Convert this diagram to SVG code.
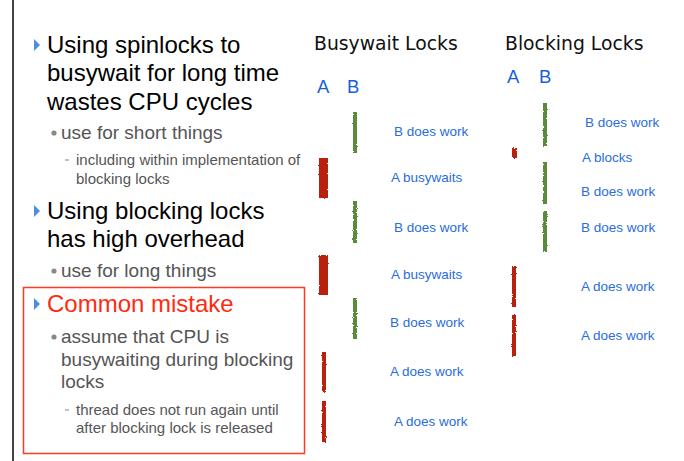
<svg xmlns="http://www.w3.org/2000/svg" width="684" height="461" viewBox="0 0 684 461">
<style>
.main{font-family:"Liberation Sans",Arial,sans-serif;font-size:24px;fill:#000}
.sub{font-family:"Liberation Sans",Arial,sans-serif;font-size:19px;fill:#555}
.subsub{font-family:"Liberation Sans",Arial,sans-serif;font-size:15px;fill:#555}
.red{fill:#ff2a10}
.title{font-family:"DejaVu Sans",Verdana,sans-serif;font-size:18.8px;fill:#111}
.ab{font-family:"Liberation Sans",Arial,sans-serif;font-size:18.5px;fill:#1a5fd6}
.lbl{font-family:"Liberation Sans",Arial,sans-serif;font-size:13.5px;fill:#2a6ddb}
.tri{fill:#4a8fe0}
.dot{fill:#888}
.g{fill:#5b8a3a;filter:url(#rough)}
.r{fill:#b8200c;filter:url(#rough)}
</style>
<defs>
<filter id="rough" x="-50%" y="-10%" width="200%" height="120%">
<feTurbulence type="fractalNoise" baseFrequency="0.9" numOctaves="2" seed="3" result="n"/>
<feDisplacementMap in="SourceGraphic" in2="n" scale="2.5" xChannelSelector="R" yChannelSelector="G"/>
</filter>
</defs>
<rect width="684" height="461" fill="#fff"/>
<line x1="13" y1="0" x2="13" y2="461" stroke="#444" stroke-width="2"/>

<g id="left-text">
<polygon class="tri" points="34,39 40,45 34,51"/>
<text class="main" x="47" y="53">Using spinlocks to</text>
<text class="main" x="47" y="81">busywait for long time</text>
<text class="main" x="47" y="110">wastes CPU cycles</text>
<circle class="dot" cx="54" cy="133" r="2.6"/>
<text class="sub" x="61" y="139">use for short things</text>
<line x1="65" y1="160" x2="69" y2="160" stroke="#888" stroke-width="1"/>
<text class="subsub" x="76" y="165">including within implementation of</text>
<text class="subsub" x="76" y="184">blocking locks</text>
<polygon class="tri" points="34,205 40,211 34,217"/>
<text class="main" x="47" y="219">Using blocking locks</text>
<text class="main" x="47" y="247">has high overhead</text>
<circle class="dot" cx="54" cy="271" r="2.6"/>
<text class="sub" x="61" y="277">use for long things</text>
</g>

<g id="mistake-box">
<rect x="23.5" y="287.5" width="281" height="166" fill="none" stroke="#ff3a1e" stroke-width="1.5"/>
<polygon class="tri" points="34,298 40,304 34,310"/>
<text class="main red" x="47" y="312">Common mistake</text>
<circle class="dot" cx="54" cy="337" r="2.6"/>
<text class="sub" x="61" y="343">assume that CPU is</text>
<text class="sub" x="61" y="366">busywaiting during blocking</text>
<text class="sub" x="61" y="388">locks</text>
<line x1="65" y1="410" x2="69" y2="410" stroke="#888" stroke-width="1"/>
<text class="subsub" x="76" y="415">thread does not run again until</text>
<text class="subsub" x="76" y="433">after blocking lock is released</text>
</g>

<g id="busywait">
<text class="title" x="314" y="50">Busywait Locks</text>
<text class="ab" x="317" y="93">A</text>
<text class="ab" x="347" y="93">B</text>
<rect class="g" x="353" y="112" width="4" height="41"/>
<rect class="r" x="319" y="158" width="9" height="40"/>
<rect class="g" x="353" y="201" width="4" height="42"/>
<rect class="r" x="319" y="255" width="9" height="40"/>
<rect class="g" x="353" y="298" width="4" height="41"/>
<rect class="r" x="322" y="352" width="4" height="40"/>
<rect class="r" x="322" y="401" width="4" height="41"/>
<text class="lbl" x="394" y="136">B does work</text>
<text class="lbl" x="391" y="182">A busywaits</text>
<text class="lbl" x="394" y="232">B does work</text>
<text class="lbl" x="391" y="279">A busywaits</text>
<text class="lbl" x="390" y="327">B does work</text>
<text class="lbl" x="390" y="376">A does work</text>
<text class="lbl" x="394" y="426">A does work</text>
</g>

<g id="blocking">
<text class="title" x="505" y="50">Blocking Locks</text>
<text class="ab" x="507" y="83">A</text>
<text class="ab" x="539" y="83">B</text>
<rect class="g" x="543" y="103" width="4" height="43"/>
<rect class="r" x="512" y="148" width="5" height="10"/>
<rect class="g" x="543" y="162" width="4" height="42"/>
<rect class="g" x="543" y="211" width="4" height="41"/>
<rect class="r" x="512" y="266" width="4" height="41"/>
<rect class="r" x="512" y="315" width="4" height="41"/>
<text class="lbl" x="585" y="127">B does work</text>
<text class="lbl" x="582" y="162">A blocks</text>
<text class="lbl" x="581" y="196">B does work</text>
<text class="lbl" x="581" y="232">B does work</text>
<text class="lbl" x="581" y="291">A does work</text>
<text class="lbl" x="581" y="340">A does work</text>
</g>
</svg>
